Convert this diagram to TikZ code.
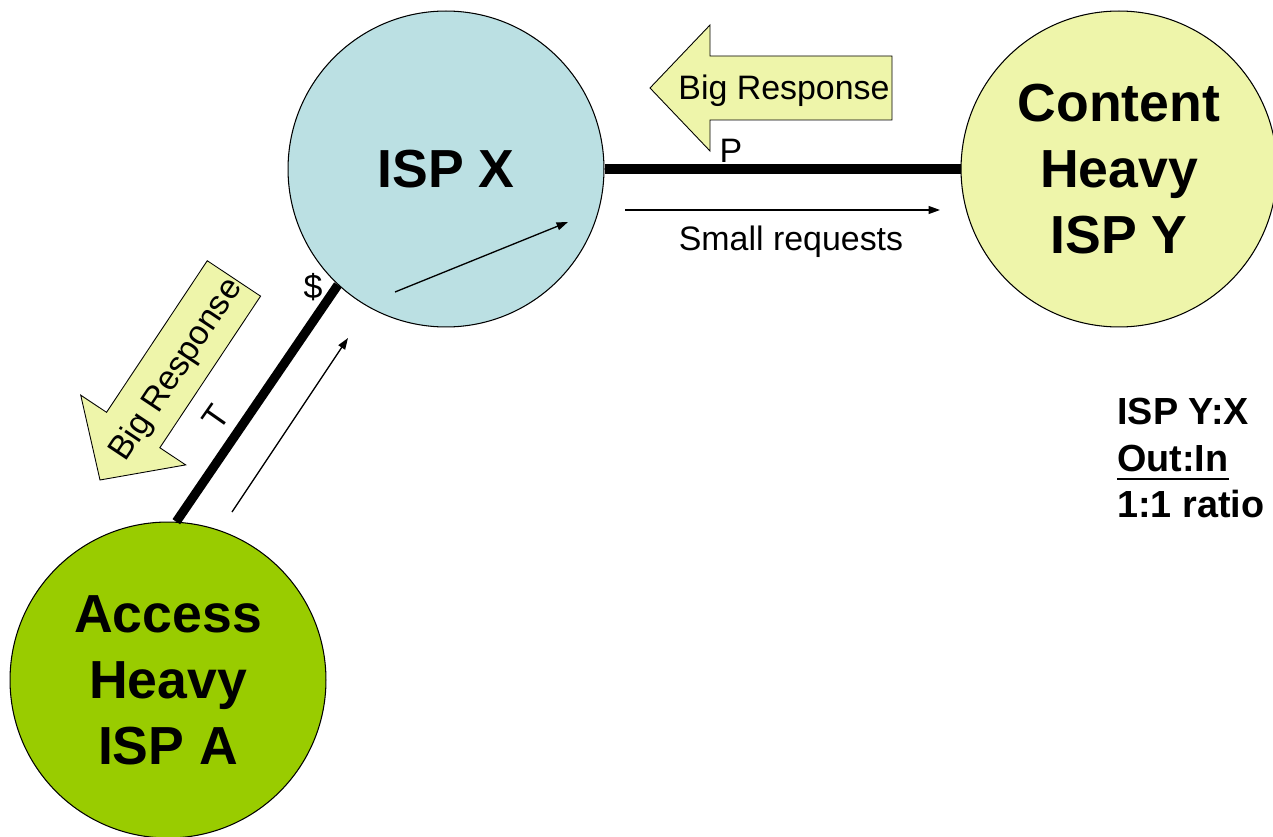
\documentclass[tikz,border=0pt]{standalone}
\usepackage{fontspec}
\setmainfont{Liberation Sans}
\usetikzlibrary{arrows.meta}

\definecolor{ispblue}{RGB}{187,224,227}
\definecolor{ispyellow}{RGB}{238,245,170}
\definecolor{ispgreen}{RGB}{153,204,0}

\newcommand{\thickul}[1]{\setbox0\hbox{#1}\rlap{\rule[-5.2pt]{\wd0}{1.6pt}}\box0}

\begin{document}
\begin{tikzpicture}[x=0.02cm,y=0.02cm,
    isp/.style={circle, draw, line width=0.6pt, minimum size=6.32cm, inner sep=0pt,
      align=center, font=\fontsize{30.5}{37.5}\selectfont\bfseries},
    link/.style={line width=5.2pt},
    flow/.style={-{Triangle[length=6.5pt,width=4.5pt]}, line width=0.75pt},
    bigarrow/.style={draw, line width=0.5pt, fill=ispyellow},
    lbl/.style={font=\fontsize{19.3}{22}\selectfont, inner sep=0pt}]
  \clip (0,0) rectangle (1273,836);

  % ISPs
  \node[isp, fill=ispblue] (ispx) at (446,667) {ISP X};
  \node[isp, fill=ispyellow] (ispy) at (1119,667) {Content\\Heavy\\ISP Y};
  \node[isp, fill=ispgreen] (ispa) at (168,156) {Access\\Heavy\\ISP A};

  % Links
  \draw[link] (ispx.east) -- (ispy.west);
  \draw[link] (ispx.227.3) -- (ispa.87.5);

  % Link labels
  \node[lbl, anchor=base] (peer) at (731,673) {P};
  \node[lbl] (paid) at (313,549) {\$};
  \node[lbl, rotate=55] (transit) at (216,419) {T};

  % Requests
  \coordinate (rqa) at (625,626);
  \coordinate (rqb) at (940,626);
  \draw[flow] (rqa) -- (rqb);
  \node[lbl, anchor=base] (small) at (791,585) {Small requests};

  \coordinate (rqc) at (232,324);
  \coordinate (rqd) at (348,498);
  \draw[flow] (rqc) -- (rqd);

  \coordinate (rqe) at (395,544);
  \coordinate (rqf) at (568,614);
  \draw[flow] (rqe) -- (rqf);

  % Big responses
  \begin{scope}[shift={(650,748)}]
    \draw[bigarrow] (0,0) -- (60,63) -- (60,32) -- (242,32) -- (242,-32)
      -- (60,-32) -- (60,-63) -- cycle;
    \node[lbl, anchor=base] (respy) at (134,-12) {Big Response};
  \end{scope}
  \begin{scope}[shift={(100,356)}, rotate=56.4]
    \draw[bigarrow] (0,0) -- (60,63) -- (60,32) -- (242,32) -- (242,-32)
      -- (60,-32) -- (60,-63) -- cycle;
    \node[lbl, anchor=base, rotate=56.4] (respx) at (134,-12) {Big Response};
  \end{scope}

  % Ratio
  \node[anchor=north west, align=left, inner sep=0pt,
    font=\fontsize{21.5}{26.5}\selectfont\bfseries] (ratio) at (1117,438)
    {ISP Y:X\\\thickul{Out:In}\\1:1 ratio};
\end{tikzpicture}
\end{document}
